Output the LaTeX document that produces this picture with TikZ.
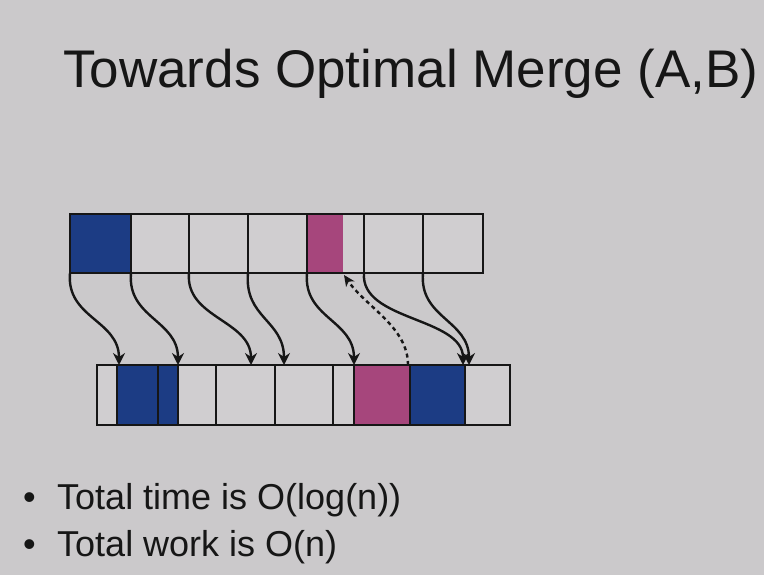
\documentclass[tikz,border=0pt]{standalone}
\usepackage{fontspec}
\setmainfont{Liberation Sans}
\usetikzlibrary{arrows.meta,calc}
\definecolor{bg}{RGB}{203,201,203}
\definecolor{cellbg}{RGB}{208,206,208}
\definecolor{cblue}{RGB}{28,60,132}
\definecolor{cpink}{RGB}{166,70,124}
\definecolor{ink}{RGB}{22,22,22}
\begin{document}
\begin{tikzpicture}[x=1pt,y=-1pt,
  cell/.style={draw=ink, line width=2pt, inner sep=0pt, outer sep=0pt, anchor=north west, minimum height=59pt},
  bcell/.style={cell, minimum height=60pt},
  mapto/.style={draw=ink, line width=2.4pt, -{Stealth[length=12pt,width=12pt,inset=4pt]}},
  backto/.style={draw=ink, line width=2.4pt, dash pattern=on 4pt off 3.5pt, -{Stealth[length=11pt,width=10pt,inset=3pt]}},
  titletext/.style={anchor=base west, inner sep=0pt, text=ink, font=\fontsize{53}{60}\selectfont},
  bullettext/.style={anchor=base west, inner sep=0pt, text=ink, font=\fontsize{36}{42}\selectfont}
]
\useasboundingbox (0,0) rectangle (764,575);
\fill[bg] (0,0) rectangle (764,575);

% title
\node[titletext] (title) at (63,88) {Towards Optimal Merge (A,B)};

% array backgrounds
\fill[cellbg] (70,214) rectangle (483,273);
\fill[cellbg] (97,365) rectangle (510,425);
\fill[cpink] (307,214) rectangle (343,273);

% top array
\node[cell, minimum width=61pt, fill=cblue] (t1) at (70,214) {};
\node[cell, minimum width=58pt] (t2) at (131,214) {};
\node[cell, minimum width=59pt] (t3) at (189,214) {};
\node[cell, minimum width=59pt] (t4) at (248,214) {};
\node[cell, minimum width=57pt] (t5) at (307,214) {};
\node[cell, minimum width=59pt] (t6) at (364,214) {};
\node[cell, minimum width=60pt] (t7) at (423,214) {};
\coordinate (pk) at (344,275);

% bottom array
\node[bcell, minimum width=20pt] (b1) at (97,365) {};
\node[bcell, minimum width=41pt, fill=cblue] (b2) at (117,365) {};
\node[bcell, minimum width=20pt, fill=cblue] (b3) at (158,365) {};
\node[bcell, minimum width=38pt] (b4) at (178,365) {};
\node[bcell, minimum width=59pt] (b5) at (216,365) {};
\node[bcell, minimum width=58pt] (b6) at (275,365) {};
\node[bcell, minimum width=21pt] (b7) at (333,365) {};
\node[bcell, minimum width=56pt, fill=cpink] (b8) at (354,365) {};
\node[bcell, minimum width=55pt, fill=cblue] (b9) at (410,365) {};
\node[bcell, minimum width=45pt] (b10) at (465,365) {};

% mapping arrows
\draw[mapto] (t1.south west) .. controls +(-4,45) and +(0,-45) .. ($(b2.north west)+(2,0)$);
\draw[mapto] (t2.south west) .. controls +(-4,45) and +(0,-45) .. (b4.north west);
\draw[mapto] (t3.south west) .. controls +(-4,45) and +(0,-45) .. ($(b5.north west)+(35,0)$);
\draw[mapto] (t4.south west) .. controls +(-4,45) and +(0,-45) .. ($(b6.north west)+(9,0)$);
\draw[mapto] (t5.south west) .. controls +(-4,45) and +(0,-45) .. (b8.north west);
\draw[mapto] (t6.south west) .. controls +(-4,48) and +(0,-48) .. ($(b10.north west)+(-2,0)$);
\draw[mapto] (t7.south west) .. controls +(-4,45) and +(0,-45) .. ($(b10.north west)+(4,0)$);
\draw[backto] ($(b8.north east)+(-2,0)$) .. controls +(0,-38) and +(22,32) .. (pk);

% bullets
\node[bullettext] (l1) at (23,509) {\makebox[34pt][l]{\textbullet}Total time is O(log(n))};
\node[bullettext] (l2) at (23,556) {\makebox[34pt][l]{\textbullet}Total work is O(n)};
\end{tikzpicture}
\end{document}
